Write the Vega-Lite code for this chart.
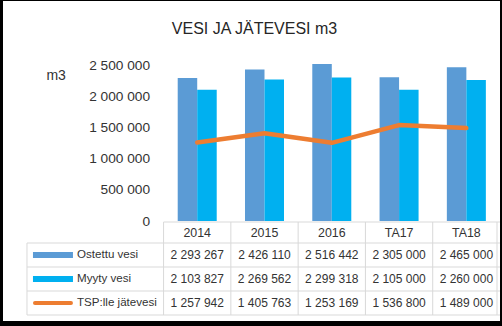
{
  "$schema": "https://vega.github.io/schema/vega-lite/v6.json",
  "autosize": {"type": "none"},
  "width": 497,
  "height": 320,
  "padding": {"left": 3, "top": 1, "right": 2, "bottom": 5},
  "background": "#000000",
  "config": {
    "view": {"fill": "#ffffff", "stroke": null},
    "locale": {"number": {"decimal": ",", "thousands": " ", "grouping": [3], "currency": ["", " €"]}},
    "font": "Liberation Sans"
  },
  "title": {
    "text": "VESI JA JÄTEVESI m3",
    "frame": "group",
    "anchor": "middle",
    "orient": "top",
    "offset": 0,
    "baseline": "alphabetic",
    "dy": 49,
    "dx": 3,
    "font": "Liberation Sans",
    "fontSize": 16,
    "fontWeight": "normal",
    "color": "#262626"
  },
  "datasets": {
    "vals": [
      {"year": "2014", "series": "Ostettu vesi", "value": 2293267},
      {"year": "2015", "series": "Ostettu vesi", "value": 2426110},
      {"year": "2016", "series": "Ostettu vesi", "value": 2516442},
      {"year": "TA17", "series": "Ostettu vesi", "value": 2305000},
      {"year": "TA18", "series": "Ostettu vesi", "value": 2465000},
      {"year": "2014", "series": "Myyty vesi", "value": 2103827},
      {"year": "2015", "series": "Myyty vesi", "value": 2269562},
      {"year": "2016", "series": "Myyty vesi", "value": 2299318},
      {"year": "TA17", "series": "Myyty vesi", "value": 2105000},
      {"year": "TA18", "series": "Myyty vesi", "value": 2260000},
      {"year": "2014", "series": "TSP:lle jätevesi", "value": 1257942},
      {"year": "2015", "series": "TSP:lle jätevesi", "value": 1405763},
      {"year": "2016", "series": "TSP:lle jätevesi", "value": 1253169},
      {"year": "TA17", "series": "TSP:lle jätevesi", "value": 1536800},
      {"year": "TA18", "series": "TSP:lle jätevesi", "value": 1489000}
    ]
  },
  "data": {"name": "vals"},
  "resolve": {"scale": {"y": "independent"}},
  "layer": [
    {
      "layer": [
        {
          "transform": [{"filter": "datum.series !== 'TSP:lle jätevesi'"}],
          "mark": {"type": "bar"},
          "encoding": {
            "x": {
              "field": "year", "type": "nominal",
              "scale": {"type": "band", "domain": ["L1", "L2", "2014", "2015", "2016", "TA17", "TA18"], "range": [26, 497], "paddingInner": 0, "paddingOuter": 0},
              "axis": null
            },
            "xOffset": {"field": "series", "type": "nominal", "scale": {"domain": ["Ostettu vesi", "Myyty vesi"], "paddingInner": 0, "paddingOuter": 0.725}},
            "y": {
              "field": "value", "type": "quantitative",
              "scale": {"domain": [0, 2500000], "range": [220, 64], "nice": false},
              "axis": {
                "orient": "left", "offset": -160.6,
                "values": [0, 500000, 1000000, 1500000, 2000000, 2500000],
                "format": ",d", "domain": false, "ticks": false, "tickSize": 0, "grid": false,
                "labelPadding": 14, "labelFont": "Liberation Sans", "labelFontSize": 13.7, "labelColor": "#333333",
                "labelFlush": false, "labelOverlap": false, "labelBound": false,
                "title": "m3", "titleAngle": 0, "titleX": -108, "titleY": 74, "titleAlign": "center", "titleBaseline": "middle",
                "titleFont": "Liberation Sans", "titleFontSize": 14, "titleFontWeight": "normal", "titleColor": "#333333"
              }
            },
            "color": {
              "field": "series", "type": "nominal",
              "scale": {"domain": ["Ostettu vesi", "Myyty vesi", "TSP:lle jätevesi"], "range": ["#5b9bd5", "#00b0f0", "#ed7d31"]},
              "legend": null
            }
          }
        },
        {
          "transform": [{"filter": "datum.series === 'TSP:lle jätevesi'"}],
          "mark": {"type": "line", "strokeWidth": 4.5, "strokeCap": "round", "strokeJoin": "round"},
          "encoding": {
            "x": {"field": "year", "type": "nominal"},
            "y": {"field": "value", "type": "quantitative"},
            "color": {"field": "series", "type": "nominal"}
          }
        }
      ]
    },
    {
      "layer": [
        {
          "transform": [{"filter": "datum.year === '2014' && datum.series !== 'Ostettu vesi'"}],
          "mark": {"type": "rule", "color": "#d9d9d9", "strokeWidth": 1, "xOffset": -136.6},
          "encoding": {
            "x": {"datum": "2014", "type": "nominal", "bandPosition": 0},
            "x2": {"datum": "TA18", "bandPosition": 1},
            "y": {
              "field": "series", "type": "nominal", "bandPosition": 0,
              "scale": {"type": "band", "domain": ["hdr", "Ostettu vesi", "Myyty vesi", "TSP:lle jätevesi"], "range": [218, 314], "paddingInner": 0, "paddingOuter": 0},
              "axis": null
            }
          }
        },
        {
          "transform": [{"filter": "datum.year === '2014' && datum.series === 'Ostettu vesi'"}],
          "mark": {"type": "rule", "color": "#d9d9d9", "strokeWidth": 1, "xOffset": -136.6},
          "encoding": {
            "x": {"datum": "2014", "type": "nominal", "bandPosition": 0},
            "x2": {"datum": "TA18", "bandPosition": 1},
            "y": {"datum": "Ostettu vesi", "type": "nominal", "bandPosition": 0}
          }
        },
        {
          "transform": [{"filter": "datum.year === '2014' && datum.series === 'Ostettu vesi'"}],
          "mark": {"type": "rule", "color": "#d9d9d9", "strokeWidth": 1, "xOffset": -136.6},
          "encoding": {
            "x": {"datum": "2014", "type": "nominal", "bandPosition": 0},
            "x2": {"datum": "TA18", "bandPosition": 1},
            "y": {"datum": "TSP:lle jätevesi", "type": "nominal", "bandPosition": 1}
          }
        },
        {
          "transform": [{"filter": "datum.year === '2014' && datum.series === 'Ostettu vesi'"}],
          "mark": {"type": "rule", "color": "#d9d9d9", "strokeWidth": 1, "yOffset": 3},
          "encoding": {
            "x": {"datum": "2014", "type": "nominal", "bandPosition": 0},
            "x2": {"datum": "TA18", "bandPosition": 1},
            "y": {"datum": "hdr", "type": "nominal", "bandPosition": 0}
          }
        },
        {
          "transform": [{"filter": "datum.series === 'Ostettu vesi'"}],
          "mark": {"type": "rule", "color": "#d9d9d9", "strokeWidth": 1, "yOffset": 3},
          "encoding": {
            "x": {"field": "year", "type": "nominal", "bandPosition": 0},
            "y": {"datum": "hdr", "type": "nominal", "bandPosition": 0},
            "y2": {"datum": "TSP:lle jätevesi", "bandPosition": 1}
          }
        },
        {
          "transform": [{"filter": "datum.year === '2014' && datum.series === 'Ostettu vesi'"}],
          "mark": {"type": "rule", "color": "#d9d9d9", "strokeWidth": 1, "xOffset": -3, "yOffset": 3},
          "encoding": {
            "x": {"datum": "TA18", "type": "nominal", "bandPosition": 1},
            "y": {"datum": "hdr", "type": "nominal", "bandPosition": 0},
            "y2": {"datum": "TSP:lle jätevesi", "bandPosition": 1}
          }
        },
        {
          "transform": [{"filter": "datum.year === '2014' && datum.series === 'Ostettu vesi'"}],
          "mark": {"type": "rule", "color": "#d9d9d9", "strokeWidth": 1, "xOffset": -136.6},
          "encoding": {
            "x": {"datum": "2014", "type": "nominal", "bandPosition": 0},
            "y": {"datum": "Ostettu vesi", "type": "nominal", "bandPosition": 0},
            "y2": {"datum": "TSP:lle jätevesi", "bandPosition": 1}
          }
        },
        {
          "transform": [{"filter": "datum.series === 'Ostettu vesi'"}],
          "mark": {"type": "text", "font": "Liberation Sans", "fontSize": 12.4, "color": "#333333", "yOffset": 2},
          "encoding": {
            "x": {"field": "year", "type": "nominal"},
            "y": {"datum": "hdr", "type": "nominal"},
            "text": {"field": "year"}
          }
        },
        {
          "mark": {"type": "text", "font": "Liberation Sans", "fontSize": 12, "color": "#333333"},
          "encoding": {
            "x": {"field": "year", "type": "nominal"},
            "y": {"field": "series", "type": "nominal"},
            "text": {"field": "value", "type": "quantitative", "format": ",d"}
          }
        },
        {
          "transform": [{"filter": "datum.year === '2014'"}],
          "mark": {"type": "text", "font": "Liberation Sans", "fontSize": 11.6, "color": "#333333", "align": "left", "xOffset": -86.6},
          "encoding": {
            "x": {"datum": "2014", "type": "nominal", "bandPosition": 0},
            "y": {"field": "series", "type": "nominal"},
            "text": {"field": "series"}
          }
        },
        {
          "transform": [{"filter": "datum.year === '2014' && datum.series !== 'TSP:lle jätevesi'"}],
          "mark": {"type": "point", "shape": "M-1,0H1", "size": 1600, "filled": false, "opacity": 1, "strokeWidth": 6, "strokeCap": "butt", "xOffset": -110.6},
          "encoding": {
            "x": {"datum": "2014", "type": "nominal", "bandPosition": 0},
            "y": {"field": "series", "type": "nominal"},
            "color": {"field": "series", "type": "nominal"}
          }
        },
        {
          "transform": [{"filter": "datum.year === '2014' && datum.series === 'TSP:lle jätevesi'"}],
          "mark": {"type": "point", "shape": "M-1,0H1", "size": 1296, "filled": false, "opacity": 1, "strokeWidth": 4, "strokeCap": "round", "xOffset": -110.6},
          "encoding": {
            "x": {"datum": "2014", "type": "nominal", "bandPosition": 0},
            "y": {"field": "series", "type": "nominal"},
            "color": {"field": "series", "type": "nominal"}
          }
        }
      ]
    }
  ]
}
